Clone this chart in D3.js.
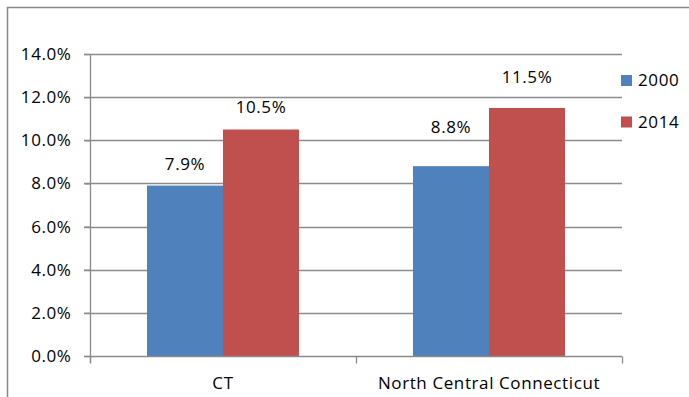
<!DOCTYPE html>
<html>
<head>
<meta charset="utf-8">
<script src="https://cdn.jsdelivr.net/npm/d3@7"></script>
<style>
  html, body { margin: 0; padding: 0; background: #fff; }
  svg { display: block; }
  text { font-family: "Open Sans", "Noto Sans", sans-serif; fill: #000; letter-spacing: 0.6px; }
</style>
</head>
<body>
<svg id="chart" width="689" height="397"></svg>
<script>
// Share of population by area, 2000 vs 2014 (percent)
const categories = ["CT", "North Central Connecticut"];
const seriesNames = ["2000", "2014"];
const values2000 = [7.9, 8.8];
const values2014 = [10.5, 11.5];
const yTicks = [0, 2, 4, 6, 8, 10, 12, 14];

const seriesValues = [values2000, values2014];
const colors = ["#4F81BD", "#C0504D"];
const fontSize = 17;

const svg = d3.select("#chart");
const W = 689, H = 397;
const plot = { left: 90, right: 622, top: 54, bottom: 356 };

// outer frame (top and left edges)
svg.append("path")
  .attr("d", `M7.5,${H} V7.5 H${W}`)
  .attr("fill", "none")
  .attr("stroke", "#8a8a8a")
  .attr("stroke-width", 1.5);

const x = d3.scaleBand()
  .domain(categories)
  .range([plot.left, plot.right])
  .paddingInner(0)
  .paddingOuter(0);

const xInner = d3.scaleBand()
  .domain(seriesNames)
  .range([0, x.bandwidth()])
  .paddingInner(0)
  .paddingOuter(0.75);

const y = d3.scaleLinear()
  .domain([0, 14])
  .range([plot.bottom, plot.top]);

// horizontal gridlines
svg.append("g")
  .selectAll("line")
  .data(yTicks.filter(t => t > 0))
  .join("line")
  .attr("x1", plot.left - 6)
  .attr("x2", plot.right)
  .attr("y1", d => Math.round(y(d)) + 0.5)
  .attr("y2", d => Math.round(y(d)) + 0.5)
  .attr("stroke", "#8c8c8c")
  .attr("stroke-width", 1.3);

// bars
const groups = svg.append("g")
  .selectAll("g")
  .data(categories)
  .join("g")
  .attr("transform", d => `translate(${x(d)},0)`);

groups.selectAll("rect")
  .data((c, i) => seriesNames.map((s, j) => ({ s, v: seriesValues[j][i], j })))
  .join("rect")
  .attr("x", d => xInner(d.s))
  .attr("width", xInner.bandwidth())
  .attr("y", d => y(d.v))
  .attr("height", d => y(0) - y(d.v))
  .attr("fill", d => colors[d.j]);

// value labels (vertical offset above bar tops, per category)
const labelGap = [[16, 17], [33, 25]];
groups.selectAll("text.val")
  .data((c, i) => seriesNames.map((s, j) => ({ s, v: seriesValues[j][i], j, i })))
  .join("text")
  .attr("class", "val")
  .attr("x", d => xInner(d.s) + xInner.bandwidth() / 2)
  .attr("y", d => y(d.v) - labelGap[d.i][d.j])
  .attr("text-anchor", "middle")
  .attr("font-size", fontSize)
  .text(d => d.v.toFixed(1) + "%");

// y axis
const yAxis = d3.axisLeft(y)
  .tickValues(yTicks)
  .tickSize(6)
  .tickPadding(13)
  .tickFormat(d => d.toFixed(1) + "%");

const gy = svg.append("g")
  .attr("transform", `translate(${plot.left + 0.5},0)`)
  .call(yAxis);
gy.select(".domain").attr("d", `M0,${plot.top}V${plot.bottom + 7}`);
gy.selectAll(".tick line").attr("stroke", "#8a8a8a").attr("stroke-width", 1.3);
gy.selectAll(".domain").attr("stroke", "#8a8a8a").attr("stroke-width", 1.3);
gy.selectAll(".tick text")
  .attr("font-size", fontSize)
  .attr("font-family", "'Open Sans', sans-serif")
  .attr("fill", "#000");

// x axis baseline with category separators
const xAxis = d3.axisBottom(x).tickSize(0).tickPadding(20);
const gx = svg.append("g")
  .attr("transform", `translate(0,${Math.round(y(0)) + 0.5})`)
  .call(xAxis);
gx.select(".domain")
  .attr("d", `M${plot.left - 6},0H${plot.right}`)
  .attr("stroke", "#8a8a8a")
  .attr("stroke-width", 1.3);
gx.selectAll(".tick text")
  .attr("font-size", fontSize)
  .attr("font-family", "'Open Sans', sans-serif")
  .attr("fill", "#000");
const sep = [plot.left, x(categories[1]), plot.right];
gx.selectAll("line.sep")
  .data(sep)
  .join("line")
  .attr("class", "sep")
  .attr("x1", d => d + 0.5).attr("x2", d => d + 0.5)
  .attr("y1", 0).attr("y2", 7)
  .attr("stroke", "#8a8a8a")
  .attr("stroke-width", 1.3);

// legend
const legend = svg.append("g")
  .selectAll("g")
  .data(seriesNames)
  .join("g")
  .attr("transform", (d, i) => `translate(621,${75 + i * 41.5})`);
legend.append("rect")
  .attr("width", 11).attr("height", 11)
  .attr("fill", (d, i) => colors[i]);
legend.append("text")
  .attr("x", 17).attr("y", 11)
  .attr("font-size", fontSize)
  .text(d => d);
</script>
</body>
</html>
